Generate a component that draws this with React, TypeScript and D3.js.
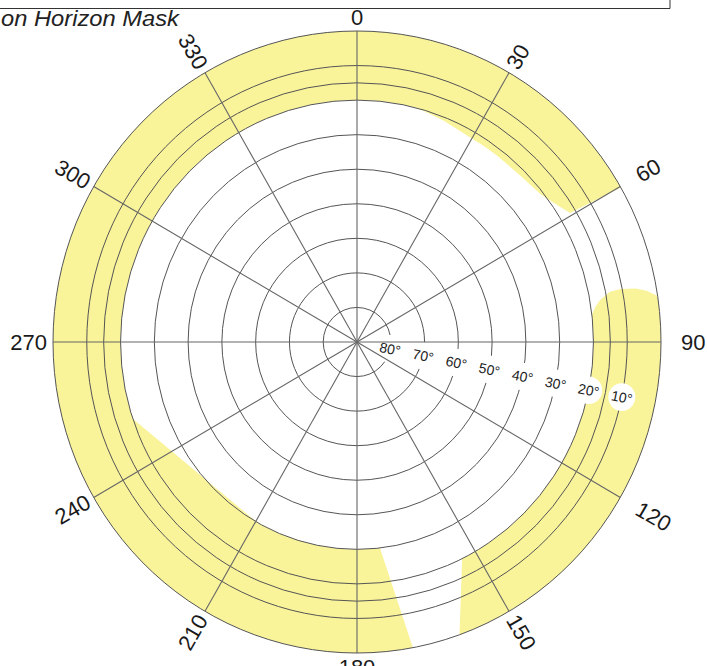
import * as d3 from 'd3';

// elevation rings (degrees above horizon), 0 = horizon
const ringElevations = [80, 70, 60, 50, 40, 30, 20, 15, 10, 0];
const ringLabels = [80, 70, 60, 50, 40, 30, 20, 10];
const ringLabelAzimuth = 101.5;
const azimuthTicks = [0, 30, 60, 90, 120, 150, 180, 210, 240, 270, 300, 330];

// horizon mask outline (azimuth, elevation), traced clockwise from north
const maskAzimuth = [0, 15, 22, 30, 40, 46, 52, 56, 59.4, 60.2, 81.5, 80.2, 79.4, 78.9, 79.0, 80.4, 81.8, 83.5, 153.6, 160.3, 169.4, 173.5, 209.5, 251.5, 360];
const maskElevation = [20, 20, 21, 22, 22, 21.7, 20.8, 18.8, 16.7, 0, 0, 3, 6, 10.5, 13.7, 17, 18.7, 20, 20, 0, 0, 30, 30, 20, 20];

// only the tail of the panel title is inside the frame
const TITLE = 'on Horizon Mask';

const W = 707;
const H = 666;
const CX = 357;
const CY = 342;
const RX = 304;
const RY = 311;
const K = RY / RX;

const YELLOW = '#f9f39a';
const GRID = '#555';
const FONT = '"Liberation Sans", Arial, Helvetica, sans-serif';

const rScale = d3.scaleLinear().domain([90, 0]).range([0, RX]);
const toRad = (az: number) => ((az - 90) * Math.PI) / 180;

// point in the (unscaled) polar group
const polar = (az: number, el: number): [number, number] => {
  const r = rScale(el);
  return [r * Math.cos(toRad(az)), r * Math.sin(toRad(az))];
};

// point on the page (ellipse stretch applied)
const page = (az: number, r: number): [number, number] => [
  CX + r * Math.cos(toRad(az)),
  CY + r * K * Math.sin(toRad(az)),
];

function maskPath() {
  const p = d3.path();
  // full disk
  p.moveTo(RX, 0);
  p.arc(0, 0, RX, 0, Math.PI * 2);
  p.closePath();
  // visible sky polygon; equal-elevation runs follow the ring
  maskAzimuth.forEach((az, i) => {
    const el = maskElevation[i];
    const [x, y] = polar(az, el);
    if (i === 0) {
      p.moveTo(x, y);
      return;
    }
    const prevAz = maskAzimuth[i - 1];
    const prevEl = maskElevation[i - 1];
    if (prevEl === el) {
      p.arc(0, 0, rScale(el), toRad(prevAz), toRad(az), az < prevAz);
    } else {
      p.lineTo(x, y);
    }
  });
  p.closePath();
  return p.toString();
}

function azLabelRotation(az: number) {
  if (az % 180 === 0) return 0;
  return az < 180 ? az - 90 : az - 270;
}

export default function App() {
  const charW = 12.2;
  return (
    <>
      <style>{`body{margin:0;background:#fff}`}</style>
      <svg width={W} height={H} style={{ display: 'block', fontFamily: FONT }}>
        <rect width={W} height={H} fill="#fff" />

        {/* panel border at top */}
        <line x1={0} x2={670} y1={8.5} y2={8.5} stroke="#333" strokeWidth={1} />
        <line x1={670} x2={670} y1={0} y2={8.5} stroke="#333" strokeWidth={1} />

        <text
          x={1}
          y={26}
          fontSize={22}
          fontStyle="italic"
          fill="#222"
          textLength={178}
          lengthAdjust="spacingAndGlyphs"
        >
          {TITLE}
        </text>

        <g transform={`translate(${CX},${CY}) scale(1,${K})`}>
          <path d={maskPath()} fill={YELLOW} fillRule="evenodd" stroke="none" />

          {ringElevations.map((el) => (
            <circle
              key={el}
              r={rScale(el)}
              fill="none"
              stroke={GRID}
              strokeWidth={1}
              vectorEffect="non-scaling-stroke"
            />
          ))}

          {ringLabels.map((el) => {
            const [x, y] = polar(ringLabelAzimuth, el);
            return <circle key={el} cx={x} cy={y} r={13.5} fill="#fff" />;
          })}

          {azimuthTicks.map((az) => {
            const [x, y] = polar(az, 0);
            return (
              <line
                key={az}
                x1={0}
                y1={0}
                x2={x}
                y2={y}
                stroke="#666"
                strokeWidth={1.1}
                vectorEffect="non-scaling-stroke"
              />
            );
          })}
        </g>

        {ringLabels.map((el) => {
          const [x, y] = page(ringLabelAzimuth, rScale(el));
          return (
            <text
              key={el}
              transform={`translate(${x},${y}) rotate(${ringLabelAzimuth - 90})`}
              textAnchor="middle"
              dominantBaseline="central"
              fontSize={14}
              fill="#222"
            >
              {`${el}°`}
            </text>
          );
        })}

        {azimuthTicks.map((az) => {
          const label = String(az);
          const horizontal = az % 180 === 0;
          const half = horizontal ? 8 : (label.length * charW) / 2;
          const extra = az >= 60 && az <= 120 ? 14 : 0;
          const d = 6 + half + extra;
          const x = CX + (RX + d) * Math.cos(toRad(az));
          const y = CY + (RY + d) * Math.sin(toRad(az));
          return (
            <text
              key={az}
              transform={`translate(${x},${y}) rotate(${azLabelRotation(az)})`}
              textAnchor="middle"
              dominantBaseline="central"
              fontSize={22}
              fill="#1a1a1a"
            >
              {label}
            </text>
          );
        })}
      </svg>
    </>
  );
}
